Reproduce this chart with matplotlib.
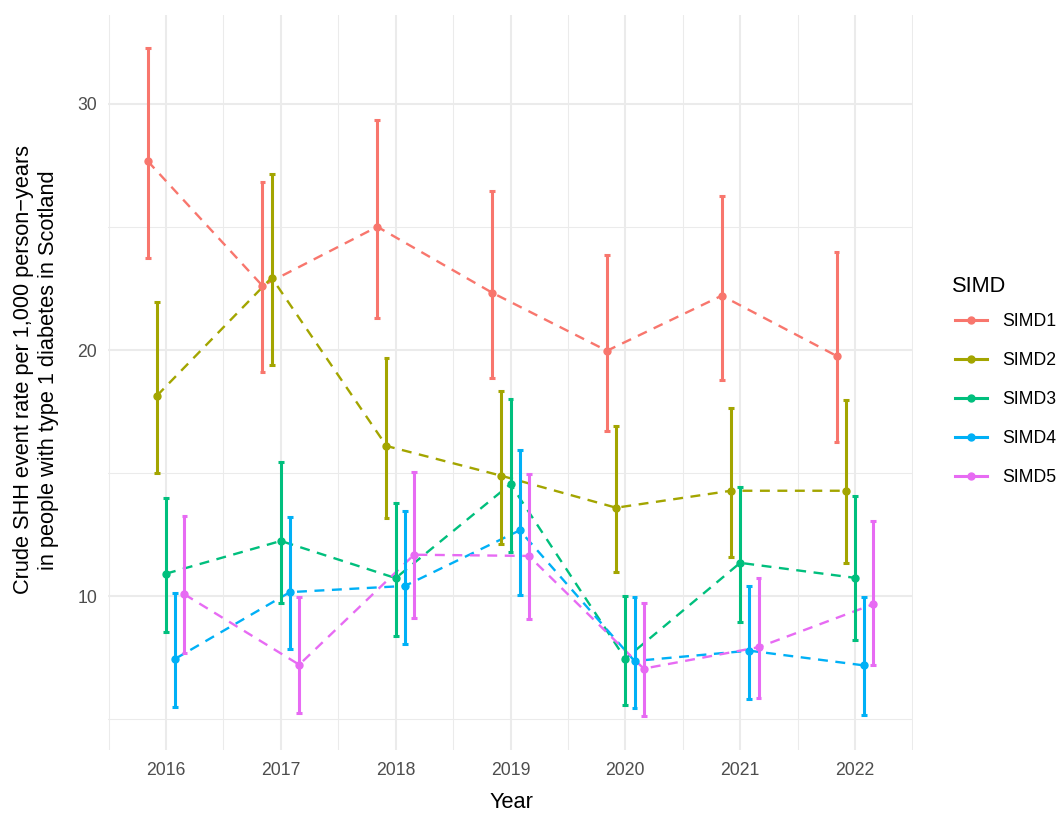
import numpy as np
import matplotlib
matplotlib.use("Agg")
import matplotlib.pyplot as plt
from matplotlib.lines import Line2D

plt.rcParams['font.family'] = ['Liberation Sans', 'DejaVu Sans']

years = [2016, 2017, 2018, 2019, 2020, 2021, 2022]
groups = ["SIMD1", "SIMD2", "SIMD3", "SIMD4", "SIMD5"]
colors = ["#F8766D", "#A3A500", "#00BF7D", "#00B0F6", "#E76BF3"]

simd1_rate = [27.68, 22.61, 25.01, 22.33, 19.97, 22.21, 19.76]
simd1_low = [23.73, 19.09, 21.29, 18.85, 16.70, 18.77, 16.25]
simd1_high = [32.26, 26.82, 29.35, 26.45, 23.85, 26.25, 23.97]

simd2_rate = [18.14, 22.94, 16.10, 14.89, 13.59, 14.28, 14.28]
simd2_low = [14.99, 19.38, 13.16, 12.10, 10.96, 11.58, 11.33]
simd2_high = [21.94, 27.14, 19.66, 18.33, 16.90, 17.63, 17.96]

simd3_rate = [10.91, 12.24, 10.73, 14.55, 7.45, 11.35, 10.74]
simd3_low = [8.52, 9.70, 8.36, 11.80, 5.56, 8.93, 8.20]
simd3_high = [13.97, 15.43, 13.77, 18.01, 9.99, 14.42, 14.05]

simd4_rate = [7.45, 10.16, 10.41, 12.67, 7.36, 7.78, 7.18]
simd4_low = [5.48, 7.84, 8.04, 10.03, 5.44, 5.80, 5.15]
simd4_high = [10.11, 13.20, 13.46, 15.95, 9.95, 10.42, 9.98]

simd5_rate = [10.07, 7.21, 11.68, 11.63, 7.05, 7.92, 9.67]
simd5_low = [7.67, 5.24, 9.09, 9.05, 5.12, 5.84, 7.18]
simd5_high = [13.24, 9.95, 15.03, 14.95, 9.71, 10.72, 13.04]

rates = [simd1_rate, simd2_rate, simd3_rate, simd4_rate, simd5_rate]
lows = [simd1_low, simd2_low, simd3_low, simd4_low, simd5_low]
highs = [simd1_high, simd2_high, simd3_high, simd4_high, simd5_high]

W, H = 1058, 814
fig = plt.figure(figsize=(W / 100, H / 100), dpi=100)
ax = fig.add_axes([108.2 / W, 1 - 749.5 / H, 804.6 / W, (749.5 - 15) / H])

dodge = 0.4
n = len(groups)
cap_w = 0.05
yrs = np.array(years, dtype=float)
grid_c = "#EBEBEB"

for i, (g, c) in enumerate(zip(groups, colors)):
    off = (i - (n - 1) / 2) * dodge / n
    x = yrs + off
    r = np.array(rates[i]); lo = np.array(lows[i]); hi = np.array(highs[i])
    ax.plot(x, r, color=c, lw=1.7, dashes=(4.2, 3.2), zorder=3)
    ax.vlines(x, lo, hi, color=c, lw=2.2, zorder=4)
    ax.hlines(lo, x - cap_w / 2, x + cap_w / 2, color=c, lw=2.2, zorder=4)
    ax.hlines(hi, x - cap_w / 2, x + cap_w / 2, color=c, lw=2.2, zorder=4)
    ax.plot(x, r, 'o', color=c, markersize=5, zorder=5)

# limits with ggplot-like 5% expansion
allx_min = yrs.min() - 2 * dodge / n - cap_w / 2
allx_max = yrs.max() + 2 * dodge / n + cap_w / 2
xr = allx_max - allx_min
ax.set_xlim(allx_min - 0.05 * xr, allx_max + 0.05 * xr)
ymin = min(min(l) for l in lows); ymax = max(max(h) for h in highs)
yr = ymax - ymin
ax.set_ylim(ymin - 0.05 * yr, ymax + 0.05 * yr)

ax.set_xticks(years)
ax.set_xticklabels([str(y) for y in years])
ax.set_xticks(np.arange(2015.5, 2023, 1.0), minor=True)
ax.set_yticks([10, 20, 30])
ax.set_yticks([5, 15, 25], minor=True)
ax.grid(True, which='major', color=grid_c, lw=1.45, zorder=0)
ax.grid(True, which='minor', color=grid_c, lw=0.75, zorder=0)
ax.set_axisbelow(True)
for s in ax.spines.values():
    s.set_visible(False)
ax.tick_params(which='both', length=0)
ax.tick_params(axis='x', labelsize=12.7, labelcolor='#4D4D4D', pad=9.3)
ax.tick_params(axis='y', labelsize=12.7, labelcolor='#4D4D4D', pad=8)

fig.text(511 / W, 1 - 803 / H, "Year", ha='center', va='center', fontsize=15.7)
fig.text(36 / W, 1 - 370 / H,
         "Crude SHH event rate per 1,000 person\u2212years\nin people with type 1 diabetes in Scotland",
         ha='center', va='center', rotation=90, fontsize=15.7, multialignment='center')

fig.text(952 / W, 1 - 287 / H, "SIMD", ha='left', va='center', fontsize=15.7)
handles = [Line2D([], [], color=c, lw=2.2, marker='o', markersize=5) for c in colors]
leg = fig.legend(handles, groups, loc='upper left',
                 bbox_to_anchor=(955 / W, 1 - 313 / H), frameon=False,
                 fontsize=12.7, handlelength=1.82,
                 handletextpad=0.85, labelspacing=1.25, borderpad=0,
                 borderaxespad=0)

fig.savefig("out.png", dpi=100)
